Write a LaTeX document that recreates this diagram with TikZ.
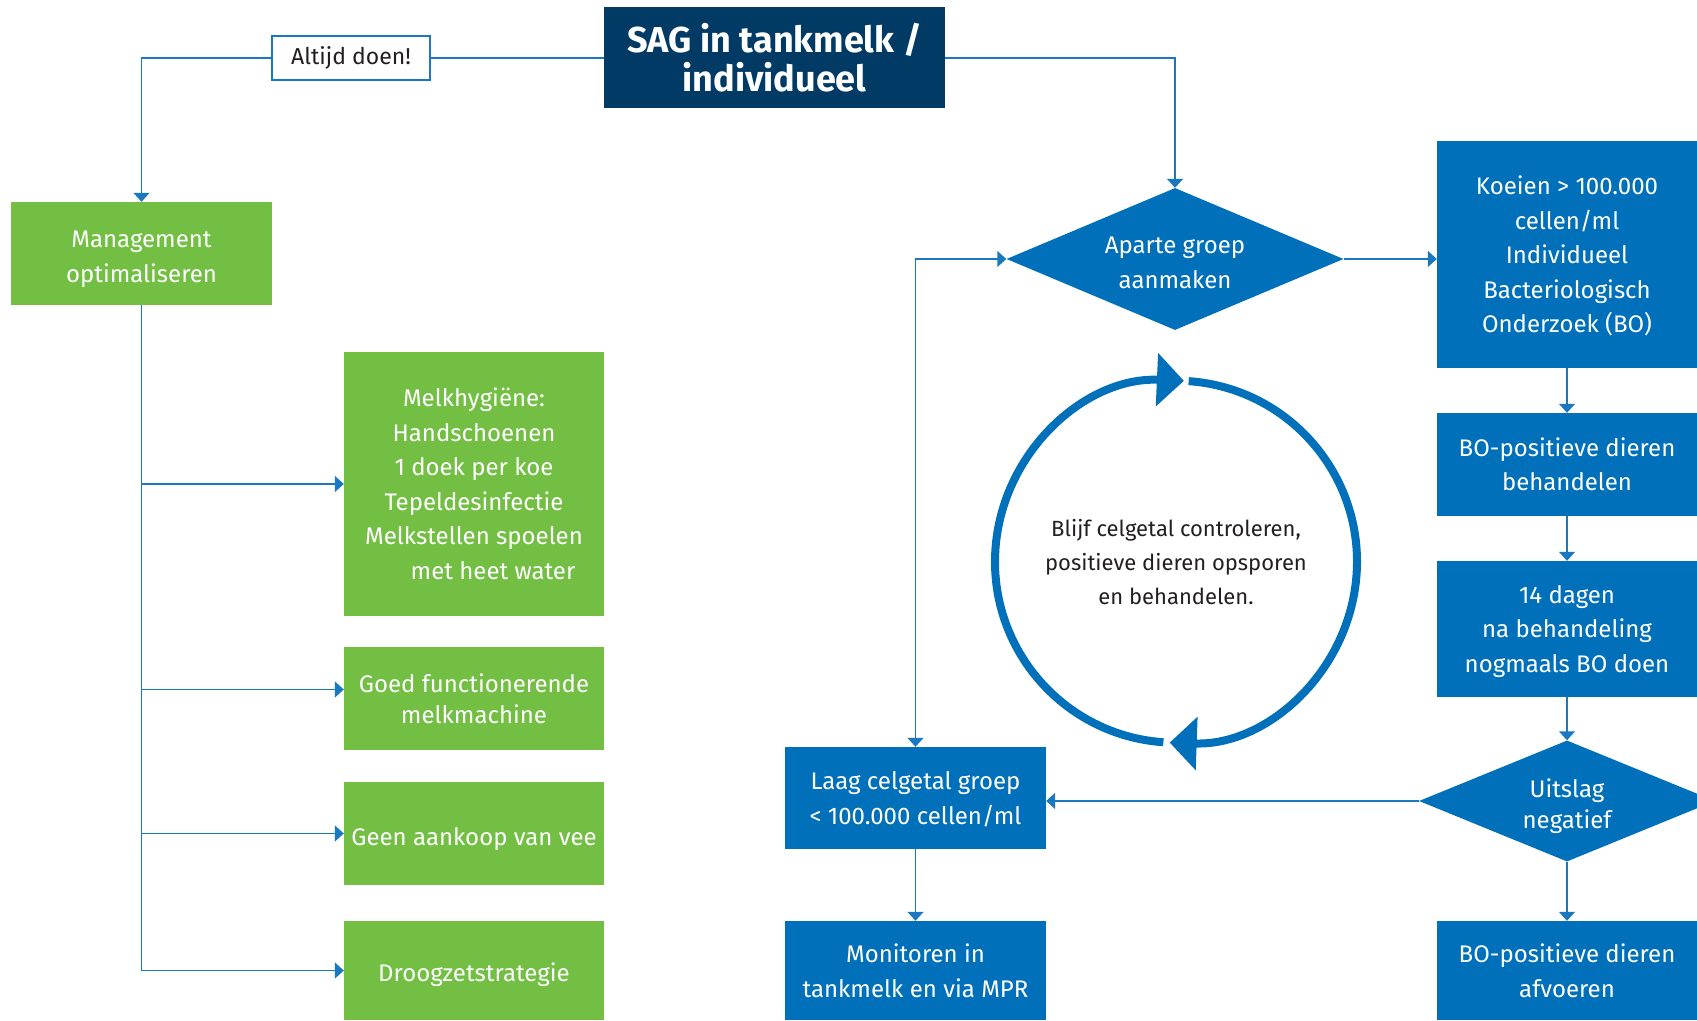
\documentclass[tikz,border=0pt]{standalone}
\usepackage{fontspec}
\setmainfont{Fira Sans}
\usepackage{tikz}
\usetikzlibrary{arrows.meta}
\usetikzlibrary{shapes.geometric}

\definecolor{sagnavy}{HTML}{003A65}
\definecolor{sagblue}{HTML}{0070BA}
\definecolor{saggreen}{HTML}{72BF44}
\definecolor{sagline}{HTML}{1A78C0}
\definecolor{sagtext}{HTML}{231F20}

\begin{document}
\begin{tikzpicture}[x=1pt,y=1pt,
		bluebox/.style={fill=sagblue,text=white,align=center,inner sep=0pt,font=\fontsize{24}{34.5}\selectfont},
		greenbox/.style={bluebox,fill=saggreen},
		choice/.style={diamond,fill=sagblue,text=white,align=center,inner sep=0pt,font=\fontsize{24}{34.5}\selectfont},
		wire/.style={draw=sagline,line width=1.5pt},
		link/.style={wire,-{Triangle[width=16pt,length=9pt]}},
		twoway/.style={wire,{Triangle[width=16pt,length=9pt]}-{Triangle[width=16pt,length=9pt]}}]
		\useasboundingbox (0,0) rectangle (1697,1020);

		\node[bluebox,fill=sagnavy,minimum width=341pt,minimum height=101pt,font=\fontsize{36}{39}\selectfont\bfseries] (sag) at (774.5,962) {SAG in tankmelk /\\individueel};
		\node[draw=sagline,line width=1.5pt,fill=white,text=sagtext,minimum width=158pt,minimum height=44pt,font=\fontsize{23}{28}\selectfont] (altijd) at (351,962) {Altijd doen!};

		\node[greenbox,minimum width=261pt,minimum height=103pt,text height=57.5pt,text depth=0pt] (mgmt) at (141.5,766.5) {Management\\optimaliseren};
		\node[greenbox,minimum width=260pt,minimum height=264pt] (hyg) at (474,536) {Melkhygiëne:\\Handschoenen\\1 doek per koe\\Tepeldesinfectie\\Melkstellen spoelen\\\hspace*{38pt}met heet water};
		\node[greenbox,minimum width=260pt,minimum height=103pt,font=\fontsize{24}{31.5}\selectfont,text depth=0pt] (goed) at (474,321.5) {Goed functionerende\\melkmachine};
		\node[greenbox,minimum width=260pt,minimum height=103pt,text height=24.3pt,text depth=0pt] (geen) at (474,186.5) {Geen aankoop van vee};
		\node[greenbox,minimum width=260pt,minimum height=99pt,text height=21pt,text depth=0pt] (droog) at (474,49.5) {Droogzetstrategie};

		\node[choice,shape aspect=2.4,minimum width=337pt,minimum height=142pt,text height=59pt,text depth=0pt] (aparte) at (1175,761) {Aparte groep\\aanmaken};
		\node[bluebox,minimum width=260pt,minimum height=227pt,text depth=0pt] (koeien) at (1567,765.5) {Koeien > 100.000\\cellen/ml\\Individueel\\Bacteriologisch\\Onderzoek (BO)};
		\node[bluebox,minimum width=260pt,minimum height=103pt,font=\fontsize{24}{33.5}\selectfont] (behandel) at (1567,555.5) {BO-positieve dieren\\behandelen};
		\node[bluebox,minimum width=260pt,minimum height=136pt,text depth=0pt] (dagen) at (1567,391) {14 dagen\\na behandeling\\nogmaals BO doen};
		\node[choice,shape aspect=2.45,minimum width=296pt,minimum height=121pt,font=\fontsize{24}{31}\selectfont,text height=55pt,text depth=0pt] (uitslag) at (1567,219) {Uitslag\\negatief};
		\node[bluebox,minimum width=260pt,minimum height=99pt,text depth=0pt] (afvoeren) at (1567,49.5) {BO-positieve dieren\\afvoeren};

		\node[bluebox,minimum width=261pt,minimum height=102pt,text depth=0pt] (laag) at (915.5,222) {Laag celgetal groep\\< 100.000 cellen/ml};
		\node[bluebox,minimum width=261pt,minimum height=99pt,text depth=0pt] (monitor) at (915.5,49.5) {Monitoren in\\tankmelk en via MPR};

		\draw[wire] (sag.west) -- (altijd.east);
		\draw[link] (altijd.west) -| (mgmt.north);
		\draw[link] (sag.east) -| (aparte.north);
		\draw[wire] (mgmt.south) -- (mgmt.south |- droog.west);
		\draw[link] (mgmt.south |- hyg.west) -- (hyg.west);
		\draw[link] (mgmt.south |- goed.west) ++(0,9) -- ([yshift=9pt]goed.west);
		\draw[link] (mgmt.south |- geen.west) -- (geen.west);
		\draw[link] (mgmt.south |- droog.west) -- (droog.west);

		\draw[link] (aparte.east) -- (aparte.east -| koeien.west);
		\draw[link] (koeien.south) -- (behandel.north);
		\draw[link] (behandel.south) -- (dagen.north);
		\draw[link] (dagen.south) -- (uitslag.north);
		\draw[link] (uitslag.south) -- (afvoeren.north);
		\draw[link] (uitslag.west) -- (uitslag.west -| laag.east);
		\draw[link] (laag.south) -- (monitor.north);
		\draw[twoway] (laag.north) |- (aparte.west);

		\coordinate (cyc) at (1176,458.3);
		\draw[sagblue,line width=8pt,-{Triangle[width=52pt,length=27pt]}] (cyc) ++(86:181pt) arc[start angle=86,end angle=-92,radius=181pt];
		\draw[sagblue,line width=8pt,-{Triangle[width=52pt,length=27pt]}] (cyc) ++(-94:181pt) arc[start angle=-94,end angle=-272.5,radius=181pt];
		\node[text=sagtext,align=center,font=\fontsize{22}{34}\selectfont] (keep) at (cyc) {Blijf celgetal controleren,\\positieve dieren opsporen\\en behandelen.};
\end{tikzpicture}
\end{document}
